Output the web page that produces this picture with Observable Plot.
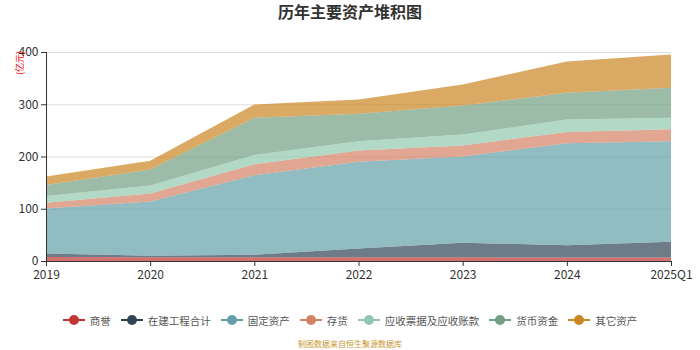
<!DOCTYPE html>
<html><head><meta charset="utf-8">
<script src="https://cdn.jsdelivr.net/npm/d3@7"></script>
<script src="https://cdn.jsdelivr.net/npm/@observablehq/plot@0.6"></script>
<style>
body{margin:0;width:700px;height:350px;background:#fff;font-family:"Noto Sans CJK SC","Noto Sans",sans-serif;position:relative;overflow:hidden}
#title{height:30px;line-height:22px;text-align:center;font-size:16px;font-weight:bold;color:#333}
#unit{position:absolute;top:63px;left:19px;transform:translate(-50%,-50%) rotate(-90deg);transform-origin:center;font-size:9px;color:#f00;white-space:nowrap}
#legend{display:flex;justify-content:center;gap:10px;margin-top:12px;font-size:10.5px;color:#555;height:16px}
.item{display:flex;align-items:center;gap:5px}
#caption{text-align:center;font-size:8px;color:#c9962f;margin-top:10px}
</style></head>
<body>
<div id="title">历年主要资产堆积图</div>
<div id="unit">(亿元)</div>
<div id="chart"></div>
<div id="legend"></div>
<div id="caption">制图数据来自恒生聚源数据库</div>
<script>
const years = ["2019","2020","2021","2022","2023","2024","2025Q1"];
const seriesNames = ["商誉","在建工程合计","固定资产","存货","应收票据及应收账款","货币资金","其它资产"];
const colors = ["#c23531","#2f4554","#61a0a8","#d48265","#91c7ae","#749f83","#ca8622"];
const goodwill    = [7.5, 7, 7, 7, 7, 6.5, 6.5];
const construction= [7, 3, 5, 17, 28, 23.5, 30.5];
const fixedAssets = [86, 104, 152, 166, 165, 195.5, 192];
const inventory   = [11, 15, 21, 21.5, 21, 21.5, 23];
const receivables = [13, 15.5, 18, 17.5, 21, 24, 22];
const cash        = [21, 30.5, 71, 53, 55.6, 51, 57.5];
const other       = [16, 17, 25.5, 27, 40.4, 60, 63.5];
const yTicks = [0,100,200,300,400];

const seriesValues = [goodwill, construction, fixedAssets, inventory, receivables, cash, other];
const data = [];
seriesNames.forEach((s, k) => years.forEach((y, i) => data.push({i, series: s, value: seriesValues[k][i]})));

const chart = Plot.plot({
  width: 700, height: 270,
  marginTop: 22, marginBottom: 39, marginLeft: 46, marginRight: 29,
  style: {fontFamily: '"Noto Sans CJK SC","Noto Sans",sans-serif', fontSize: "12px", color: "#333"},
  x: {domain: [0, years.length - 1], ticks: d3.range(years.length), tickFormat: i => years[i], label: null},
  y: {domain: [0, 400], ticks: yTicks, label: null},
  color: {domain: seriesNames, range: colors},
  marks: [
    Plot.gridY(yTicks.slice(1), {stroke: "#ddd", strokeOpacity: 1}),
    Plot.areaY(data, {x: "i", y: "value", z: "series", fill: "series", fillOpacity: 0.7, order: seriesNames}),
    Plot.axisY({ticks: yTicks, tickSize: 5, tickPadding: 3, stroke: "#333", fill: "#333", fontSize: 12, label: null}),
    Plot.axisX({ticks: d3.range(years.length), tickFormat: i => years[i], tickSize: 5, tickPadding: 4, fontSize: 12, label: null}),
    Plot.ruleX([0], {stroke: "#333"}),
    Plot.ruleY([0], {stroke: "#333"})
  ]
});
document.getElementById("chart").appendChild(chart);

const legend = document.getElementById("legend");
seriesNames.forEach((s, k) => {
  const it = document.createElement("div");
  it.className = "item";
  it.innerHTML = `<svg width="22" height="12"><line x1="0" y1="6" x2="22" y2="6" stroke="${colors[k]}" stroke-width="2"/><circle cx="11" cy="6" r="5" fill="${colors[k]}"/></svg><span>${s}</span>`;
  legend.appendChild(it);
});
</script>
</body></html>
